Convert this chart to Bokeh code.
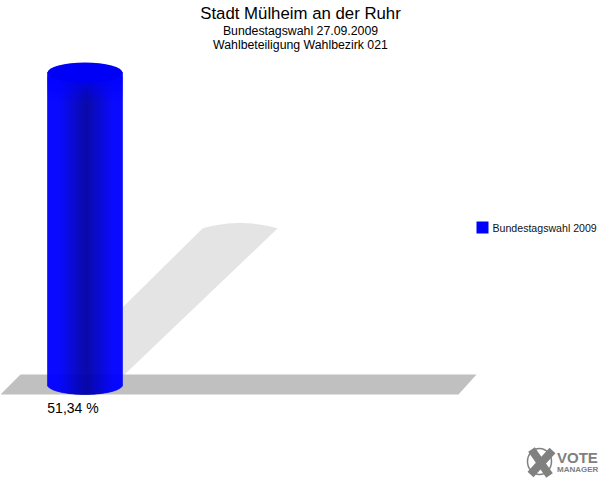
from bokeh.plotting import figure
from bokeh.models import Range1d, ColumnDataSource
from bokeh.core.properties import value as V
from bokeh.embed import file_html
from bokeh.resources import INLINE
import numpy as np

title = "Stadt Mülheim an der Ruhr"
subtitle1 = "Bundestagswahl 27.09.2009"
subtitle2 = "Wahlbeteiligung Wahlbezirk 021"
series_name = "Bundestagswahl 2009"
values = [51.34]
value_labels = ["51,34 %"]

BASE_PX = 384.0
TOP_PX = 72.0
S = (BASE_PX - TOP_PX) / values[0]

p = figure(width=600, height=480, output_backend="svg", toolbar_location=None,
           x_range=Range1d(0, 600), y_range=Range1d((BASE_PX - 480) / S, BASE_PX / S),
           min_border=0, outline_line_color=None, background_fill_color="white")
p.extra_y_ranges = {"px": Range1d(480, 0)}
p.axis.visible = False
p.grid.visible = False
PX = dict(y_range_name="px")

# shadow
t = np.linspace(0, 1, 25)
sx = 202 + 75 * t
sy = 228 - 22 * t * (1 - t)
p.patch(list(sx) + [122, 122], list(sy) + [376, 307], fill_color="#e4e4e4", fill_alpha=1.0, line_color=None, **PX)
# ground
p.patch([0, 20, 476, 458], [394, 374, 374, 394], fill_color="#c0c0c0", fill_alpha=1.0, line_color=None, **PX)

# cylinder
L, R = 47.0, 122.0
cx, rx, ry = (L + R) / 2, (R - L) / 2, 10.0
def shade(x):
    f = max(0.0, 1 - abs(x - 86) / 27)
    return "#0000%02x" % int(round(255 - 90 * f))
xs = np.arange(L, R, 1.0)
mid = xs + 0.5
off = ry * np.sqrt(np.clip(1 - ((mid - cx) / rx) ** 2, 0, 1))
cols = [shade(x) for x in mid]
src = ColumnDataSource(dict(left=xs, right=xs + 1.0, top=[values[0]] * len(xs), bottom=-off / S, c=cols))
p.quad(left="left", right="right", top="top", bottom="bottom", fill_color="c", fill_alpha=1.0,
       line_color="c", line_width=0.6, line_alpha=1.0, source=src)
# the shading of the body fades in just below the lid
rows = np.arange(76.0, 100.0, 2.0)
fade = np.clip((100.0 - rows) / 24.0, 0, 1) * 0.85
p.quad(left=L, right=R, top=rows, bottom=rows + 2.0, fill_color="#0000ff", fill_alpha=fade, line_color=None, **PX)
p.ellipse(x=[cx], y=values, width=[R - L], height=[2 * ry], width_units="data", height_units="screen",
          fill_color="#0000f6", fill_alpha=1.0, line_color=None)

FONT = V("Liberation Sans")
def txt(x, y, s, size, align="center", color="black", style="normal"):
    p.text(x=[x], y=[y], text=[s], text_font=FONT, text_font_size=size, text_align=align,
           text_baseline="middle", text_color=color, text_font_style=style, **PX)

txt(300, 13, title, "16.8px")
txt(300, 30, subtitle1, "12.3px")
txt(300, 44, subtitle2, "12.3px")
txt(72.5, 407.5, value_labels[0], "14px")

p.quad(left=[476], right=[488], top=[221], bottom=[233], fill_color="#0000ff", fill_alpha=1.0, line_color=None, **PX)
txt(492, 227.5, series_name, "10.6px", align="left", color="#111111")

# logo
G = "#808080"
p.ellipse(x=[539], y=[461], width=[24], height=[26], width_units="screen", height_units="screen",
          fill_color=None, line_color=G, line_width=1.5, **PX)
p.line([531, 549], [449, 475], line_color=G, line_width=8, **PX)
p.line([552, 530], [450, 474], line_color=G, line_width=8, **PX)
txt(556.5, 457, "VOTE", "15px", align="left", color=G, style="bold")
txt(556.5, 468.5, "MANAGER", "8px", align="left", color=G, style="bold")

open("out.html", "w").write(file_html(p, INLINE))
